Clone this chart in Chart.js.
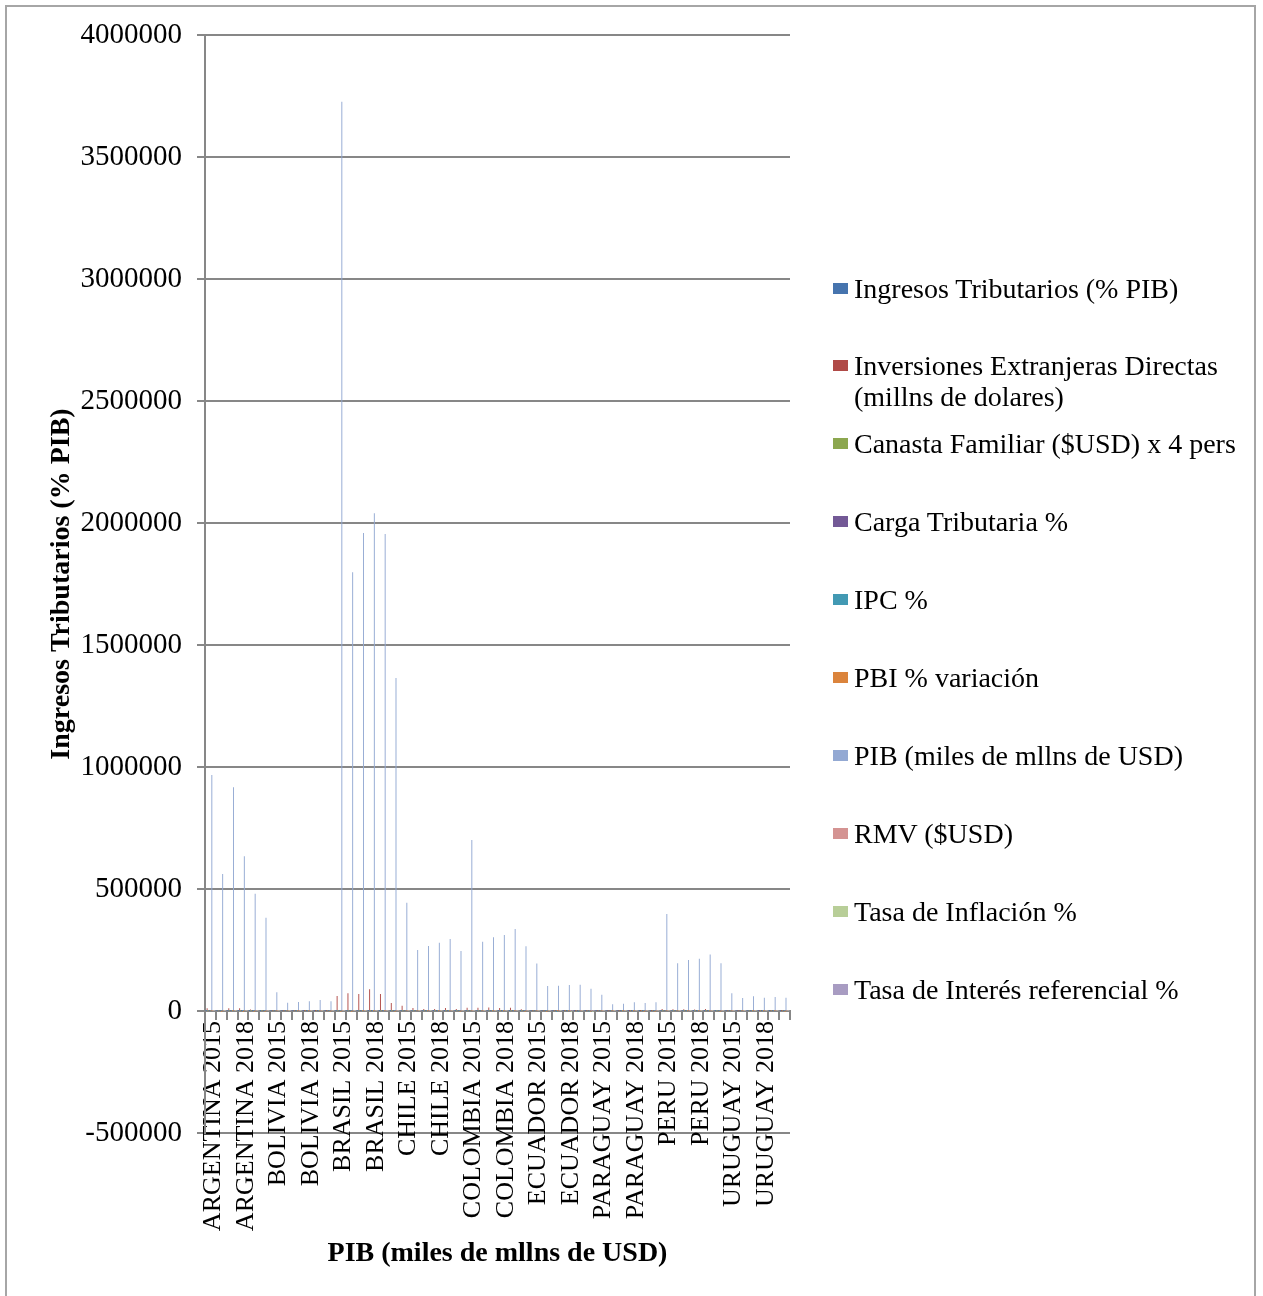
<!DOCTYPE html>
<html>

<head>
	<meta charset="UTF-8">
	<title>Indicadores económicos por país</title>
	<script src="https://cdn.jsdelivr.net/npm/chart.js"></script>
	<style>
		body {
			margin: 0;
			background: #fff;
			overflow: hidden;
			font-family: 'Liberation Serif', serif;
			color: #000;
		}

		/* thin grey frame round the whole chart */
		#frame {
			position: absolute;
			left: 5px;
			top: 5px;
			width: 1247px;
			height: 1400px;
			border: 2px solid #a6a6a6;
		}

		#myChart {
			position: absolute;
			left: 0;
			top: 0;
		}

		#legend {
			position: absolute;
			left: 833px;
			top: 0;
			margin: 0;
			padding: 0;
			list-style: none;
		}

		#legend li {
			position: absolute;
			left: 0;
			width: 425px;
			font-size: 28px;
			line-height: 31px;
		}

		#legend .key {
			position: absolute;
			left: 0;
			top: 10px;
			width: 15px;
			height: 11px;
		}

		#legend .txt {
			display: block;
			margin-left: 21px;
			width: 400px;
		}

		#xTitle {
			position: absolute;
			left: 205px;
			width: 585px;
			top: 1235px;
			text-align: center;
			font-weight: bold;
			font-size: 28px;
			line-height: 34px;
		}
	</style>
</head>

<body>
	<div id="frame"></div>
	<canvas id="myChart" width="1263" height="1296"></canvas>
	<ul id="legend"></ul>
	<div id="xTitle">PIB (miles de mllns de USD)</div>

	<script>
		// categories: one bar group per country and year
		const countries = ['ARGENTINA', 'BOLIVIA', 'BRASIL', 'CHILE', 'COLOMBIA', 'ECUADOR', 'PARAGUAY', 'PERU', 'URUGUAY'];
		const years = [2015, 2016, 2017, 2018, 2019, 2020];
		const categories = countries.flatMap(c => years.map(y => c + ' ' + y));

		// series, 6 values per country in the order above
		const ingresosTributarios = [
			31.2, 31.3, 30.3, 28.8, 28.6, 29.4, 26.1, 25.5, 24.6, 24.6, 24.4, 22.2, 32.1, 32.2, 32.3, 33.1, 33.1, 31.6,
			20.4, 20.1, 20.2, 21.1, 20.7, 19.3, 19.6, 19.3, 18.8, 19.4, 19.7, 18.7, 21.0, 20.0, 20.5, 20.9, 20.1, 19.1,
			14.0, 13.9, 13.9, 14.0, 13.9, 13.9, 17.1, 16.2, 15.2, 16.4, 16.6, 15.2, 26.9, 27.1, 27.9, 28.9, 29.0, 28.3
		];
		const inversionesExtranjeras = [
			11000, 3000, 11500, 11000, 6500, 4500, 560, 330, 710, 300, 200, 150, 61500, 72500, 69700, 88800, 69700, 32800,
			21900, 12300, 8000, 8000, 12000, 8000, 13700, 13700, 14500, 12000, 13000, 7500, 1300, 800, 600, 1400, 1000, 1100,
			400, 300, 500, 200, 300, 100, 8000, 6900, 6800, 6500, 8000, 4000, 1500, 300, 2700, 1400, 2000, 500
		];
		const canastaFamiliar = [
			1050, 900, 1000, 650, 560, 580, 650, 660, 680, 700, 710, 720, 1100, 1050, 1150, 1000, 980, 800,
			1150, 1100, 1200, 1180, 1100, 1050, 640, 600, 650, 670, 630, 600, 680, 690, 710, 715, 716, 712,
			560, 550, 580, 590, 570, 540, 780, 760, 800, 820, 830, 800, 1300, 1250, 1350, 1320, 1200, 1100
		];
		const cargaTributaria = [
			31.0, 31.3, 30.4, 28.8, 28.6, 29.0, 25.8, 25.0, 24.2, 24.1, 23.9, 21.8, 31.9, 32.0, 32.2, 32.9, 33.0, 31.4,
			20.2, 20.0, 20.1, 21.0, 20.6, 19.3, 19.5, 19.0, 18.7, 19.2, 19.5, 18.6, 20.9, 19.9, 20.3, 20.8, 20.0, 19.0,
			13.8, 13.8, 13.8, 13.9, 13.8, 13.7, 16.9, 16.0, 15.0, 16.2, 16.4, 15.0, 26.7, 27.0, 27.7, 28.7, 28.8, 28.1
		];
		const ipc = [
			26.9, 40.3, 24.8, 47.6, 53.8, 36.1, 3.0, 4.0, 2.7, 1.5, 1.5, 0.7, 10.7, 6.3, 2.9, 3.7, 4.3, 4.5,
			4.4, 2.7, 2.3, 2.6, 3.0, 3.0, 6.8, 5.8, 4.1, 3.2, 3.8, 1.6, 3.4, 1.1, -0.2, 0.3, -0.1, -0.9,
			3.1, 3.9, 4.5, 3.2, 2.8, 2.2, 4.4, 3.2, 1.4, 2.2, 1.9, 2.0, 9.4, 8.1, 6.6, 8.0, 8.8, 9.4
		];
		const pbiVariacion = [
			2.7, -2.1, 2.8, -2.6, -2.0, -9.9, 4.9, 4.3, 4.2, 4.2, 2.2, -8.7, -3.5, -3.3, 1.3, 1.8, 1.2, -3.9,
			2.3, 1.7, 1.2, 3.7, 0.9, -6.0, 3.0, 2.1, 1.4, 2.6, 3.2, -7.0, 0.1, -1.2, 2.4, 1.3, 0.0, -7.8,
			3.0, 4.3, 4.8, 3.2, -0.4, -0.8, 3.3, 4.0, 2.5, 4.0, 2.2, -11.0, 0.4, 1.7, 1.6, 0.5, 0.4, -6.1
		];
		const pib = [
			967000, 561000, 917000, 634000, 481000, 382000, 76600, 34000, 37000, 40000, 45000, 40000,
			3726000, 1798000, 1959000, 2040000, 1955000, 1365000, 444000, 250000, 266000, 280000, 295000, 246000,
			700800, 284000, 302000, 311500, 336000, 265000, 195000, 102500, 103700, 106500, 108000, 91500,
			67000, 27500, 30000, 35600, 33000, 35600, 397500, 195500, 209000, 214000, 232000, 195500,
			72500, 53300, 60000, 54600, 57400, 54600
		];
		const rmv = [
			500, 470, 530, 380, 300, 320, 240, 260, 290, 300, 300, 310, 240, 270, 290, 250, 250, 200,
			360, 380, 420, 430, 410, 390, 230, 230, 250, 260, 250, 240, 354, 366, 375, 386, 394, 400,
			330, 340, 350, 360, 340, 320, 240, 250, 260, 280, 280, 260, 400, 420, 450, 450, 430, 390
		];
		const tasaInflacion = [
			26.5, 41.0, 25.7, 34.3, 53.5, 42.0, 4.1, 3.6, 2.8, 2.3, 1.8, 0.9, 9.0, 8.7, 3.4, 3.7, 3.7, 3.2,
			4.3, 3.8, 2.2, 2.3, 2.3, 3.0, 5.0, 7.5, 4.3, 3.2, 3.5, 2.5, 4.0, 1.7, 0.4, -0.2, 0.3, -0.3,
			3.1, 4.1, 3.6, 4.0, 2.8, 1.8, 3.6, 3.6, 2.8, 1.3, 2.1, 1.8, 8.7, 9.6, 6.2, 7.6, 7.9, 9.8
		];
		const tasaInteres = [
			33.0, 24.8, 28.8, 59.3, 55.0, 38.0, 3.0, 2.5, 2.5, 2.5, 2.5, 3.0, 14.25, 13.75, 7.0, 6.5, 4.5, 2.0,
			3.5, 3.5, 2.5, 2.75, 1.75, 0.5, 5.75, 7.5, 4.75, 4.25, 4.25, 1.75, 9.1, 8.1, 7.8, 8.7, 8.8, 8.5,
			5.75, 5.5, 5.25, 5.25, 4.0, 0.75, 3.75, 4.25, 3.25, 2.75, 2.25, 0.25, 13.3, 11.0, 7.25, 9.0, 9.25, 4.5
		];

		const seriesNames = [
			'Ingresos Tributarios (% PIB)',
			'Inversiones Extranjeras Directas (millns de dolares)',
			'Canasta Familiar ($USD) x 4 pers',
			'Carga Tributaria %',
			'IPC %',
			'PBI % variación',
			'PIB (miles de mllns de USD)',
			'RMV ($USD)',
			'Tasa de Inflación %',
			'Tasa de Interés referencial %'
		];
		const seriesData = [ingresosTributarios, inversionesExtranjeras, canastaFamiliar, cargaTributaria, ipc,
			pbiVariacion, pib, rmv, tasaInflacion, tasaInteres];
		const seriesColors = ['#4674ae', '#b04a47', '#8ca74f', '#735996', '#4299b3', '#db843c',
			'#93a9d3', '#d49392', '#b8ce98', '#a89cc2'];

		const gridColor = '#878787';

		Chart.defaults.font.family = "'Liberation Serif', serif";
		Chart.defaults.color = '#000';

		const ctx = document.getElementById('myChart').getContext('2d');
		const chart = new Chart(ctx, {
			type: 'bar',
			data: {
				labels: categories,
				datasets: seriesNames.map((name, i) => ({
					label: name,
					data: seriesData[i],
					backgroundColor: seriesColors[i],
					borderWidth: 0,
					categoryPercentage: 0.87,
					barPercentage: 1
				}))
			},
			options: {
				responsive: false,
				animation: false,
				layout: {
					// room below the plot for the rotated labels and axis title
					padding: { top: 35, right: 473, bottom: 163, left: 0 }
				},
				plugins: {
					legend: { display: false },
					tooltip: { enabled: false }
				},
				scales: {
					x: {
						// category axis crosses the value axis at zero
						position: { y: 0 },
						border: { display: true, color: gridColor, width: 2 },
						grid: {
							drawOnChartArea: false,
							drawTicks: true,
							tickLength: 8,
							color: gridColor,
							lineWidth: 2
						},
						ticks: {
							autoSkip: false,
							minRotation: 90,
							maxRotation: 90,
							padding: 2,
							labelOffset: 3,
							font: { size: 26 },
							// only every third category gets a label
							callback: (value, index) => index % 3 === 0 ? categories[index] : ''
						}
					},
					y: {
						min: -500000,
						max: 4000000,
						afterFit: (scale) => { scale.width = 205; },
						border: { display: true, color: gridColor, width: 2 },
						grid: {
							color: gridColor,
							lineWidth: 2,
							tickLength: 8
						},
						ticks: {
							stepSize: 500000,
							padding: 15,
							font: { size: 29 },
							callback: (value) => String(value)
						},
						title: {
							display: true,
							text: 'Ingresos Tributarios (% PIB)',
							font: { size: 28, weight: 'bold' },
							padding: { top: 45, bottom: 0 }
						}
					}
				}
			}
		});

		// legend on the right, built from the same names and colours
		const legend = document.getElementById('legend');
		seriesNames.forEach((name, i) => {
			const li = document.createElement('li');
			li.style.top = (272.5 + i * 77.9) + 'px';
			li.innerHTML = '<span class="key" style="background:' + seriesColors[i] + '"></span>' +
				'<span class="txt">' + name + '</span>';
			legend.appendChild(li);
		});
	</script>
</body>

</html>
